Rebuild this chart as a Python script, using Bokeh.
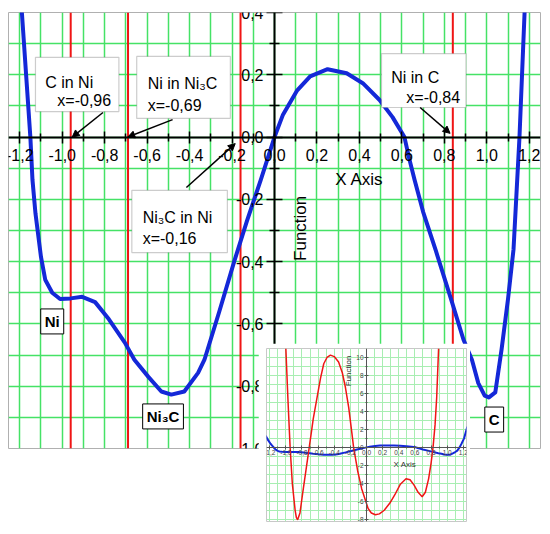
from bokeh.plotting import figure
from bokeh.models import FixedTicker, Label, Arrow, NormalHead, BoxAnnotation, Span
from bokeh.layouts import column
from bokeh.embed import file_html
from bokeh.resources import INLINE

# ---------------- data ----------------
curve_x = [-1.25, -1.22, -1.19, -1.17, -1.15, -1.14, -1.126, -1.10, -1.08, -1.047,
           -1.01, -0.96, -0.906, -0.845, -0.78, -0.705, -0.66, -0.594, -0.533, -0.486,
           -0.425, -0.36, -0.33, -0.26, -0.19, -0.13, -0.065, -0.04, 0.0, 0.04,
           0.107, 0.168, 0.25, 0.34, 0.416, 0.495, 0.556, 0.612, 0.635, 0.66,
           0.70, 0.76, 0.836, 0.89, 0.93, 0.96, 0.99, 1.01, 1.04, 1.07,
           1.10, 1.126, 1.154, 1.178, 1.21, 1.25]
curve_y = [1.3, 0.8, 0.4, 0.2, 0.0, -0.138, -0.245, -0.385, -0.458, -0.50,
           -0.52, -0.518, -0.513, -0.53, -0.585, -0.66, -0.715, -0.77, -0.817, -0.827,
           -0.817, -0.757, -0.715, -0.56, -0.40, -0.27, -0.138, -0.085, 0.0, 0.072,
           0.15, 0.195, 0.218, 0.205, 0.173, 0.119, 0.064, 0.0, -0.07, -0.138,
           -0.24, -0.365, -0.53, -0.65, -0.715, -0.79, -0.83, -0.836, -0.82, -0.68,
           -0.52, -0.36, 0.0, 0.4, 1.0, 2.3]

deriv_x = [-1.0, -0.975, -0.947, -0.92, -0.885, -0.87, -0.854, -0.825, -0.79, -0.75,
           -0.71, -0.66, -0.61, -0.57, -0.53, -0.49, -0.447, -0.40, -0.346, -0.30,
           -0.264, -0.22, -0.18, -0.16, -0.11, -0.06, 0.02, 0.06, 0.11, 0.16,
           0.22, 0.29, 0.35, 0.42, 0.49, 0.54, 0.59, 0.64, 0.69, 0.73,
           0.77, 0.80, 0.825, 0.85, 0.87, 0.894]
deriv_y = [11.0, 5.5, 0.0, -4.0, -7.0, -7.8, -8.06, -7.3, -5.0, -2.5,
           0.0, 3.2, 5.7, 7.7, 9.3, 10.0, 10.26, 10.1, 9.5, 8.3,
           6.8, 4.4, 1.5, 0.0, -2.6, -4.6, -6.8, -7.3, -7.5, -7.4,
           -7.0, -6.2, -5.3, -4.1, -3.5, -3.6, -4.2, -5.0, -5.5, -5.0,
           -3.5, -1.8, 0.0, 2.5, 5.5, 11.0]

root_x = [-0.96, -0.69, -0.16, 0.84]

x_ticks = [-1.2, -1.0, -0.8, -0.6, -0.4, -0.2, 0.0, 0.2, 0.4, 0.6, 0.8, 1.0, 1.2]
x_tick_labels = ["-1,2", "-1,0", "-0,8", "-0,6", "-0,4", "-0,2", "0,0",
                 "0,2", "0,4", "0,6", "0,8", "1,0", "1,2"]
x_minor = [-1.1, -0.9, -0.7, -0.5, -0.3, -0.1, 0.1, 0.3, 0.5, 0.7, 0.9, 1.1]
y_ticks = [-1.0, -0.8, -0.6, -0.4, -0.2, 0.0, 0.2, 0.4]
y_tick_labels = ["-1,0", "-0,8", "-0,6", "-0,4", "-0,2", "0,0", "0,2", "0,4"]
y_minor = [-0.9, -0.7, -0.5, -0.3, -0.1, 0.1, 0.3]

inset_y_ticks = [-8, -6, -4, -2, 0, 2, 4, 6, 8, 10]
inset_y_labels = ["-8", "-6", "-4", "-2", "0", "2", "4", "6", "8", "10"]
inset_y_minor = [-7, -5, -3, -1, 1, 3, 5, 7, 9]

FONT = "Liberation Sans"
BLUE = "#1428d8"
RED = "#f01515"
GREEN = "#45e266"

# ---------------- main figure ----------------
p = figure(width=544, height=526, x_range=(-1.253, 1.253), y_range=(-1.0, 0.4),
           output_backend="svg", toolbar_location=None,
           min_border_left=8, min_border_right=1, min_border_top=12, min_border_bottom=78,
           background_fill_color="white", border_fill_color="white",
           outline_line_color="#b0b0b0", outline_line_width=1)

p.xaxis.ticker = FixedTicker(ticks=x_ticks, minor_ticks=x_minor)
p.yaxis.ticker = FixedTicker(ticks=y_ticks, minor_ticks=y_minor)
p.xaxis.major_label_overrides = dict(zip(x_ticks, x_tick_labels))
p.yaxis.major_label_overrides = dict(zip(y_ticks, y_tick_labels))

for ax in (p.xaxis, p.yaxis):
    ax.fixed_location = 0
    ax.axis_line_width = 2
    ax.axis_line_color = "black"
    ax.major_tick_line_width = 1.5
    ax.minor_tick_line_width = 1.5
    ax.major_tick_line_color = "black"
    ax.minor_tick_line_color = "black"
    ax.major_label_text_font = FONT
    ax.major_label_text_font_size = "16px"
    ax.major_label_text_color = "black"
p.xaxis.major_tick_in = 6
p.xaxis.major_tick_out = 6
p.xaxis.minor_tick_in = 4
p.xaxis.minor_tick_out = 4
p.xaxis.major_label_standoff = 6
p.yaxis.major_tick_in = 8
p.yaxis.major_tick_out = 8
p.yaxis.minor_tick_in = 5
p.yaxis.minor_tick_out = 5
p.yaxis.major_label_standoff = 3

for g in (p.xgrid, p.ygrid):
    g.grid_line_color = GREEN
    g.grid_line_width = 1.5
    g.minor_grid_line_color = GREEN
    g.minor_grid_line_width = 1.5
p.xgrid.ticker = p.xaxis.ticker
p.ygrid.ticker = p.yaxis.ticker

for rx in root_x:
    p.add_layout(Span(location=rx, dimension="height", line_color=RED,
                      line_width=2, level="underlay"))

p.line(curve_x, curve_y, line_width=4, line_color=BLUE, line_join="round")

# axis titles
p.add_layout(Label(x=0.40, y=-0.136, text="X Axis", text_font=FONT, text_font_size="17px",
                   text_align="center", text_baseline="middle", text_color="black"))
p.add_layout(Label(x=0.124, y=-0.293, text="Function", text_font=FONT, text_font_size="17px",
                   text_align="center", text_baseline="middle", angle=1.5708,
                   text_color="black"))

# annotation boxes
boxes = [
    (-1.126, -0.733, 0.256, 0.082,
     [(-1.080, 0.175, "C in Ni"), (-1.023, 0.118, "x=-0,96")],
     (-0.808, 0.079, -0.953, 0.0)),
    (-0.649, -0.208, 0.259, 0.060,
     [(-0.597, 0.172, "Ni in Ni\u2083C"), (-0.597, 0.101, "x=-0,69")],
     (-0.480, 0.056, -0.691, 0.0)),
    (0.504, 0.902, 0.268, 0.095,
     [(0.550, 0.191, "Ni in C"), (0.621, 0.127, "x=-0,84")],
     (0.686, 0.095, 0.827, 0.012)),
    (-0.672, -0.222, -0.171, -0.371,
     [(-0.621, -0.258, "Ni\u2083C in Ni"), (-0.621, -0.326, "x=-0,16")],
     (-0.415, -0.162, -0.185, -0.021)),
]
for (l, r, t, b, texts, arr) in boxes:
    p.add_layout(BoxAnnotation(left=l, right=r, top=t, bottom=b, fill_color="white",
                               fill_alpha=1, line_color="#555555", line_width=1.2))
    for (tx, ty, tt) in texts:
        p.add_layout(Label(x=tx, y=ty, text=tt, text_font=FONT, text_font_size="16px",
                           text_baseline="alphabetic", text_align="left",
                           text_color="black"))
    p.add_layout(Arrow(x_start=arr[0], y_start=arr[1], x_end=arr[2], y_end=arr[3],
                       line_color="black", line_width=1.5,
                       end=NormalHead(size=7, fill_color="black", line_color="black")))

for (tx, ty, tt) in [(-1.047, -0.592, "Ni"), (-0.525, -0.897, "Ni\u2083C"), (1.035, -0.907, "C")]:
    p.add_layout(Label(x=tx, y=ty, text=tt, text_font=FONT, text_font_size="15px",
                       text_font_style="bold", text_align="center", text_baseline="middle",
                       text_color="black", background_fill_color="white",
                       border_line_color="black", border_line_width=1, padding=4))

# ---------------- inset figure ----------------
q = figure(width=212, height=183, x_range=(-1.24, 1.24), y_range=(-8.25, 11.0),
           output_backend="svg", toolbar_location=None,
           min_border_left=5, min_border_right=4, min_border_top=5, min_border_bottom=5,
           background_fill_color="white", border_fill_color="white",
           outline_line_color="#c8c8c8", outline_line_width=1)
q.styles = {"position": "absolute", "left": "258px", "top": "343px"}

q.xaxis.ticker = FixedTicker(ticks=x_ticks, minor_ticks=x_minor)
q.yaxis.ticker = FixedTicker(ticks=inset_y_ticks, minor_ticks=inset_y_minor)
q.xaxis.major_label_overrides = dict(zip(x_ticks, x_tick_labels))
q.yaxis.major_label_overrides = dict(zip(inset_y_ticks, inset_y_labels))
for ax in (q.xaxis, q.yaxis):
    ax.fixed_location = 0
    ax.axis_line_width = 1
    ax.axis_line_color = "#555555"
    ax.major_tick_line_color = "#555555"
    ax.minor_tick_line_color = "#555555"
    ax.major_tick_in = 2
    ax.major_tick_out = 2
    ax.minor_tick_in = 1
    ax.minor_tick_out = 1
    ax.major_label_text_font = FONT
    ax.major_label_text_font_size = "6.5px"
    ax.major_label_text_color = "#444444"
    ax.major_label_standoff = 1
for g in (q.xgrid, q.ygrid):
    g.grid_line_color = "#a8eeb2"
    g.grid_line_width = 1
    g.minor_grid_line_color = "#a8eeb2"
    g.minor_grid_line_width = 1
q.xgrid.ticker = q.xaxis.ticker
q.ygrid.ticker = q.yaxis.ticker

q.line(curve_x, curve_y, line_width=2, line_color=BLUE)
q.line(deriv_x, deriv_y, line_width=1.5, line_color=RED)

q.add_layout(Label(x=0.476, y=-1.9, text="X Axis", text_font=FONT, text_font_size="8px",
                   text_align="center", text_baseline="middle", text_color="#333333"))
q.add_layout(Label(x=-0.22, y=8.5, text="Function", text_font=FONT, text_font_size="8px",
                   text_align="center", text_baseline="middle", angle=1.5708,
                   text_color="#333333"))

layout = column(p, q)
open("out.html", "w").write(file_html(layout, INLINE))
